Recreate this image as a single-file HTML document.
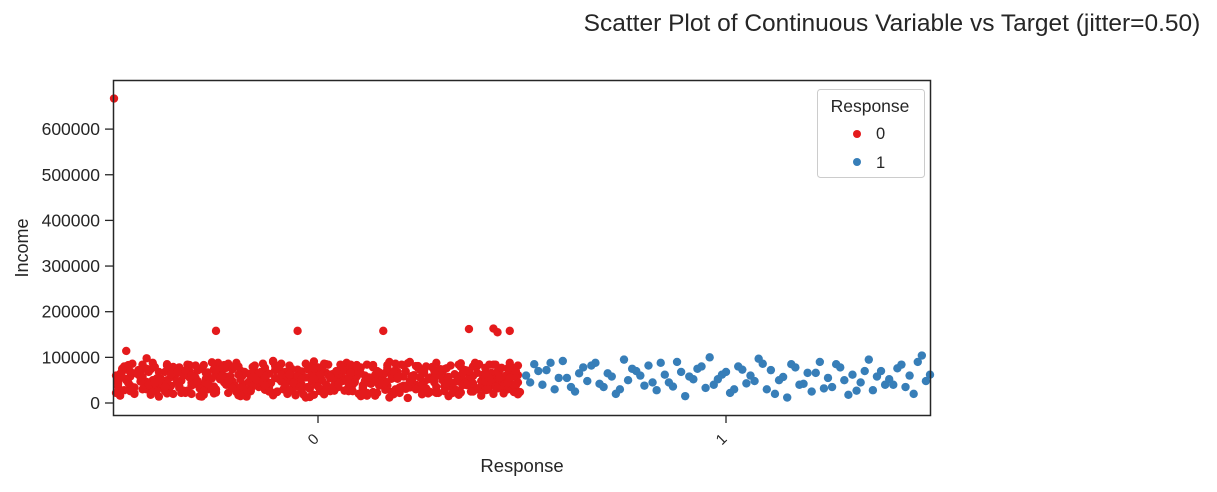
<!DOCTYPE html>
<html><head><meta charset="utf-8"><style>
body{margin:0;background:#fff;font-family:"Liberation Sans",Arial,sans-serif}
svg text{fill:#262626;font-family:"Liberation Sans",Arial,sans-serif}
</style></head><body>
<svg id="chart" width="1217" height="487" xmlns="http://www.w3.org/2000/svg">
<text x="892" y="31" font-size="24.5" text-anchor="middle">Scatter Plot of Continuous Variable vs Target (jitter=0.50)</text>
<g id="pts"></g>
<rect x="113.5" y="80.5" width="817" height="335" fill="none" stroke="#262626" stroke-width="1.5"/>
<g id="axes"></g>
<text x="28" y="248" font-size="18" text-anchor="middle" transform="rotate(-90 28 248)">Income</text>
<text x="522" y="472" font-size="18.5" text-anchor="middle">Response</text>
<g>
<rect x="817.5" y="89.5" width="107" height="88" rx="3" fill="#fff" fill-opacity="0.8" stroke="#ccc"/>
<text x="870" y="112" font-size="17.5" text-anchor="middle">Response</text>
<circle cx="857" cy="134" r="4" fill="#e41a1c"/>
<text x="876" y="139" font-size="16.5">0</text>
<circle cx="857" cy="162" r="4" fill="#377eb8"/>
<text x="876" y="168" font-size="16.5">1</text>
</g>
</svg>
<script>
const yTicks=[0,100000,200000,300000,400000,500000,600000];
const xCats=["0","1"];
const redX=[-0.49,-0.44,-0.38,-0.34,-0.28,-0.24,-0.19,-0.13,-0.09,-0.03,0.02,0.07,0.12,0.17,0.21,0.27,0.31,0.36,0.42,0.47,
-0.47,-0.42,-0.37,-0.31,-0.27,-0.22,-0.16,-0.12,-0.06,-0.01,0.04,0.09,0.14,0.19,0.24,0.29,0.34,0.39,0.44,0.49,
-0.48,-0.43,-0.39,-0.33,-0.29,-0.23,-0.18,-0.14,-0.08,-0.04,0.01,0.06,0.11,0.16,0.22,0.26,0.32,0.37,0.41,0.46,
-0.46,-0.41,-0.36,-0.32,-0.26,-0.21,-0.17,-0.11,-0.07,-0.02,0.03,0.08,0.13,0.18,0.23,0.28,0.33,0.38,0.43,0.48,
-0.495,-0.45,-0.40,-0.35,-0.30,-0.25,-0.20,-0.15,-0.10,-0.05,0.00,0.05,0.10,0.15,0.20,0.25,0.30,0.35,0.40,0.45,
-0.485,-0.435,-0.385,-0.335,-0.285,-0.235,-0.185,-0.135,-0.085,-0.035,0.015,0.065,0.115,0.165,0.215,0.265,0.315,0.365,0.415,0.465,
-0.475,-0.425,-0.375,-0.325,-0.275,-0.225,-0.175,-0.125,-0.075,-0.025,0.025,0.075,0.125,0.175,0.225,0.275,0.325,0.375,0.425,0.475,
-0.465,-0.415,-0.365,-0.315,-0.265,-0.215,-0.165,-0.115,-0.065,-0.015,0.035,0.085,0.135,0.185,0.235,0.285,0.335,0.385,0.435,0.485,
-0.455,-0.405,-0.355,-0.305,-0.255,-0.205,-0.155,-0.105,-0.055,-0.005,0.045,0.095,0.145,0.195,0.245,0.295,0.345,0.395,0.445,0.49,
-0.445,-0.395,-0.345,-0.295,-0.245,-0.195,-0.145,-0.095,-0.045,0.005,0.055,0.105,0.155,0.205,0.255,0.305,0.355,0.405,0.455,0.48,
-0.49,-0.43,-0.37,-0.31,-0.25,-0.19,-0.13,-0.07,-0.01,0.05,0.11,0.17,0.23,0.29,0.35,0.41,0.47,-0.22,0.08,0.32,
-0.47,-0.41,-0.35,-0.29,-0.23,-0.17,-0.11,-0.05,0.01,0.07,0.13,0.19,0.25,0.31,0.37,0.43,0.49,-0.32,0.22,-0.02,
-0.49,-0.46,-0.43,-0.40,-0.37,-0.34,-0.31,-0.28,-0.25,-0.22,-0.19,-0.16,-0.13,-0.10,-0.07,-0.04,-0.01,0.02,0.05,0.08,0.11,0.14,0.17,0.20,0.23,0.26,0.29,0.32,0.35,0.38,0.41,0.44,0.47,
-0.48,-0.45,-0.42,-0.39,-0.36,-0.33,-0.30,-0.27,-0.24,-0.21,-0.18,-0.15,-0.12,-0.09,-0.06,-0.03,0.00,0.03,0.06,0.09,0.12,0.15,0.18,0.21,0.24,0.27,0.30,0.33,0.36,0.39,0.42,0.45,0.48,
-0.47,-0.44,-0.41,-0.38,-0.35,-0.32,-0.29,-0.26,-0.23,-0.20,-0.17,-0.14,-0.11,-0.08,-0.05,-0.02,0.01,0.04,0.07,0.10,0.13,0.16,0.19,0.22,0.25,0.28,0.31,0.34,0.37,0.40,0.43,0.46,0.49,
-0.495,-0.465,-0.435,-0.405,-0.375,-0.345,-0.315,-0.285,-0.255,-0.225,-0.195,-0.165,-0.135,-0.105,-0.075,-0.045,-0.015,0.015,0.045,0.075,0.105,0.135,0.165,0.195,0.225,0.255,0.285,0.315,0.345,0.375,0.405,0.435,0.465,
-0.485,-0.455,-0.425,-0.395,-0.365,-0.335,-0.305,-0.275,-0.245,-0.215,-0.185,-0.155,-0.125,-0.095,-0.065,-0.035,-0.005,0.025,0.055,0.085,0.115,0.145,0.175,0.205,0.235,0.265,0.295,0.325,0.355,0.385,0.415,0.445,0.475,
-0.49,-0.46,-0.43,-0.40,-0.37,-0.34,-0.31,-0.28,-0.25,-0.22,-0.19,-0.16,-0.13,-0.10,-0.07,-0.04,-0.01,0.02,0.05,0.08,0.11,0.14,0.17,0.20,0.23,0.26,0.29,0.32,0.35,0.38,0.41,0.44,0.47,
-0.475,-0.445,-0.415,-0.385,-0.355,-0.325,-0.295,-0.265,-0.235,-0.205,-0.175,-0.145,-0.115,-0.085,-0.055,-0.025,0.005,0.035,0.065,0.095,0.125,0.155,0.185,0.215,0.245,0.275,0.305,0.335,0.365,0.395,0.425,0.455,0.485,
-0.48,-0.45,-0.42,-0.39,-0.36,-0.33,-0.30,-0.27,-0.24,-0.21,-0.18,-0.15,-0.12,-0.09,-0.06,-0.03,0.00,0.03,0.06,0.09,0.12,0.15,0.18,0.21,0.24,0.27,0.30,0.33,0.36,0.39,0.42,0.45,0.48,
-0.465,-0.435,-0.405,-0.375,-0.345,-0.315,-0.285,-0.255,-0.225,-0.195,-0.165,-0.135,-0.105,-0.075,-0.045,-0.015,0.015,0.045,0.075,0.105,0.135,0.165,0.195,0.225,0.255,0.285,0.315,0.345,0.375,0.405,0.435,0.465,0.495,
-0.49,-0.46,-0.43,-0.40,-0.37,-0.34,-0.31,-0.28,-0.25,-0.22,-0.19,-0.16,-0.13,-0.10,-0.07,-0.04,-0.01,0.02,0.05,0.08,0.11,0.14,0.17,0.20,0.23,0.26,0.29,0.32,0.35,0.38,0.41,0.44,0.47];
const redY=[25,62,41,78,18,55,33,70,47,12,66,29,84,38,58,21,74,50,35,88,
52,30,85,44,67,22,79,36,58,91,27,49,16,72,40,63,28,81,55,19,
70,45,14,60,37,83,26,53,68,40,76,57,33,61,87,46,15,64,77,42,
38,74,57,27,89,48,64,17,82,31,54,71,43,24,50,79,37,59,20,66,
60,20,50,65,42,30,88,61,24,73,45,35,67,52,28,39,60,23,48,56,
16,56,34,49,75,63,41,86,30,57,19,80,60,46,69,32,52,71,29,76,
80,39,68,22,53,77,14,47,62,35,84,26,44,90,34,56,82,43,66,30,
44,68,27,83,36,59,51,24,75,48,63,40,78,19,61,45,25,87,53,38,
31,50,79,58,21,40,69,55,17,66,37,58,22,53,81,71,47,33,72,61,
66,28,46,71,60,17,35,77,43,26,70,15,55,84,26,64,39,56,41,24,
47,84,21,38,66,52,29,60,79,47,33,68,44,22,60,36,67,45,57,50,
73,33,62,15,45,24,92,38,50,88,47,30,73,37,51,84,45,69,11,13,
35,58,80,28,50,72,20,42,64,86,33,55,77,25,47,69,18,40,62,84,30,52,74,22,44,66,88,36,58,80,28,50,72,
75,22,46,68,38,60,82,30,52,74,20,42,64,86,34,56,78,26,48,70,16,38,60,82,30,52,74,22,44,66,84,36,58,
50,72,18,40,62,84,32,54,76,24,46,68,90,36,58,80,28,50,72,20,42,64,86,34,56,78,26,48,70,16,38,60,82,
22,44,66,88,26,48,70,14,36,58,80,28,50,72,20,42,64,86,34,56,78,24,46,68,90,32,54,76,18,40,62,84,30,
64,86,32,54,76,22,44,66,88,38,60,82,30,52,74,18,40,62,84,26,48,70,12,36,58,80,22,44,66,88,34,56,78,
42,26,57,79,45,33,61,83,23,49,71,37,59,81,27,53,75,31,45,67,39,61,83,29,51,73,35,57,79,25,47,69,43,
28,65,39,53,20,71,48,37,59,80,29,66,44,52,19,74,61,35,27,83,56,42,68,31,77,24,50,63,39,85,46,21,70,
57,34,75,48,63,27,55,41,79,33,68,50,25,62,44,86,36,57,73,45,22,67,53,38,81,26,61,44,72,30,55,77,40,
83,47,24,35,68,56,19,74,40,62,26,45,81,58,35,49,23,70,42,65,83,29,57,48,19,70,43,84,25,62,36,45,24,
51,69,30,44,82,37,60,26,73,48,15,57,39,76,62,28,53,85,41,66,20,47,78,34,59,71,25,50,87,43,64,32,55];
const redOutX=[-0.5,-0.25,-0.05,0.16,0.37,0.43,0.44,0.47,-0.47,-0.42];
const redOutY=[667,158,158,158,162,163,155,158,114,98];
const blueX=[0.51,0.53,0.55,0.56,0.58,0.60,0.61,0.63,0.65,0.66,0.68,0.70,0.71,0.73,0.75,0.76,0.78,0.80,0.81,0.83,0.85,0.86,0.88,0.90,0.91,0.93,0.95,0.96,0.98,1.00,1.01,1.03,1.05,1.06,1.08,1.10,1.11,1.13,1.15,1.16,1.18,1.20,1.21,1.23,1.25,1.26,1.28,1.30,1.31,1.33,1.35,1.36,1.38,1.40,1.41,1.43,1.45,1.46,1.48,1.49,
0.52,0.54,0.57,0.59,0.62,0.64,0.67,0.69,0.72,0.74,0.77,0.79,0.82,0.84,0.87,0.89,0.92,0.94,0.97,0.99,1.02,1.04,1.07,1.09,1.12,1.14,1.17,1.19,1.22,1.24,1.27,1.29,1.32,1.34,1.37,1.39,1.42,1.44,1.47,1.50];
const blueY=[60,85,40,72,30,92,55,25,78,48,88,35,65,20,95,50,70,38,82,28,62,45,90,15,58,75,33,100,52,68,22,80,43,60,97,30,72,50,12,85,40,66,25,90,55,35,78,18,62,45,95,28,70,52,40,84,60,20,104,48,
45,70,88,55,35,65,82,42,58,30,75,60,45,88,36,68,52,80,40,62,30,73,48,86,20,57,78,42,66,32,85,50,27,70,58,40,76,35,90,62];
const NS="http://www.w3.org/2000/svg";
const X0=114,X1=930,Y0=403,YPER=45.65/100000;
const xs=v=>X0+(v+0.5)*(X1-X0)/2;
const ys=v=>Y0-v*YPER;
const pts=document.getElementById('pts'),axes=document.getElementById('axes');
function dot(x,y,c,n){if(x===undefined||y===undefined)return;const e=document.createElementNS(NS,'circle');e.setAttribute('cx',xs(x));e.setAttribute('cy',ys(y*1000));e.setAttribute('r',4.2);e.setAttribute('fill',c);


pts.appendChild(e);}
redX.forEach((x,i)=>dot(x,redY[i],'#e41a1c','point-response-0'));
redOutX.forEach((x,i)=>dot(x,redOutY[i],'#e41a1c','point-response-0-outlier'));
blueX.forEach((x,i)=>dot(x,blueY[i],'#377eb8','point-response-1'));
yTicks.forEach(t=>{const y=ys(t);const l=document.createElementNS(NS,'line');l.setAttribute('x1',105);l.setAttribute('x2',113);l.setAttribute('y1',y);l.setAttribute('y2',y);l.setAttribute('stroke','#262626');l.setAttribute('stroke-width','1.3');


axes.appendChild(l);const tx=document.createElementNS(NS,'text');tx.setAttribute('x',100);tx.setAttribute('y',y+6);tx.setAttribute('text-anchor','end');tx.setAttribute('font-size','17.5');tx.textContent=t;


axes.appendChild(tx);});
xCats.forEach((c,i)=>{const x=xs(i);const l=document.createElementNS(NS,'line');l.setAttribute('x1',x);l.setAttribute('x2',x);l.setAttribute('y1',416);l.setAttribute('y2',423);l.setAttribute('stroke','#262626');l.setAttribute('stroke-width','1.3');


axes.appendChild(l);const tx=document.createElementNS(NS,'text');tx.setAttribute('x',x-4);tx.setAttribute('y',444);tx.setAttribute('text-anchor','middle');tx.setAttribute('font-size','15');tx.setAttribute('transform','rotate(-45 '+(x-4)+' 440)');tx.textContent=c;


axes.appendChild(tx);});
</script>
</body></html>
